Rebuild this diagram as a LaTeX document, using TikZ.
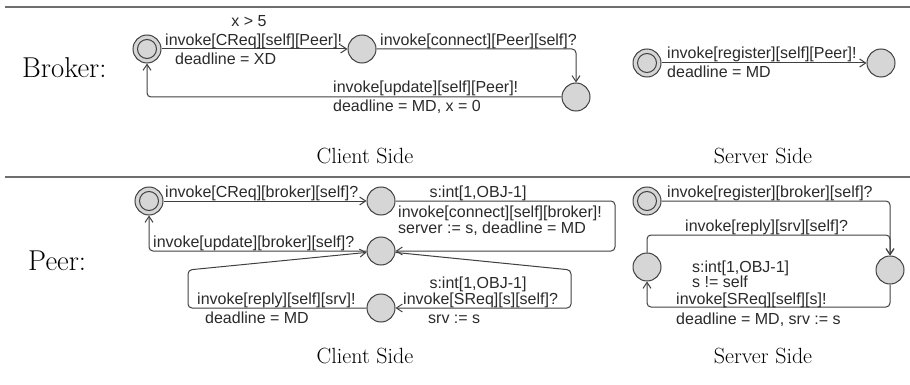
\documentclass[tikz,border=0pt]{standalone}
\usepackage{fontspec}
\newfontfamily\lblfont{Liberation Sans}
\usetikzlibrary{arrows.meta}
\definecolor{stroke}{HTML}{404040}
\definecolor{locfill}{HTML}{D6D6D6}
\definecolor{txt}{HTML}{2A2A2A}
\definecolor{rulec}{HTML}{6E6E6E}
\begin{document}
\begin{tikzpicture}[x=1pt,y=-1pt,
  loc/.style={circle, draw=stroke, fill=locfill, line width=1pt, minimum size=28pt, inner sep=0pt},
  initloc/.style={loc, path picture={\draw[stroke,line width=1pt] (path picture bounding box.center) circle (9.5pt);}},
  lbl/.style={font=\lblfont\fontsize{16}{19}\selectfont, text=txt, inner sep=0pt},
  trans/.style={draw=stroke, line width=1pt, rounded corners=4pt, -{Straight Barb[length=6pt,width=8pt]}},
  heading/.style={font=\fontsize{28.7}{32}\selectfont, inner sep=0pt},
  sidelbl/.style={font=\fontsize{22}{26}\selectfont, inner sep=0pt},
  sep/.style={draw=rulec, line width=1.5pt}
]
\useasboundingbox (0,0) rectangle (910,385);

% rules
\coordinate (r1a) at (5,7);   \coordinate (r1b) at (910,7);
\coordinate (r2a) at (5,177); \coordinate (r2b) at (910,177);
\draw[sep] (r1a) -- (r1b);
\draw[sep] (r2a) -- (r2b);

% headings
\node[heading, anchor=base west] (hb) at (22,78) {Broker:};
\node[heading, anchor=base west] (hp) at (28,270) {Peer:};
\node[sidelbl, anchor=base] (cs1) at (365,164) {Client Side};
\node[sidelbl, anchor=base] (ss1) at (763,164) {Server Side};
\node[sidelbl, anchor=base] (cs2) at (365,363) {Client Side};
\node[sidelbl, anchor=base] (ss2) at (763,363) {Server Side};

% ---------------- Broker client side
\node[initloc] (b0) at (147,49) {};
\node[loc] (b1) at (362,49) {};
\node[loc] (b2) at (576,97) {};
\draw[trans] (b0) -- (b1);
\draw[trans] (b1.east) -| (b2.north);
\draw[trans] (b2.west) -| (b0.south);
\node[lbl, anchor=base] (l1) at (249,27) {x > 5};
\node[lbl, anchor=base west] (l2) at (165,46) {invoke[CReq][self][Peer]!};
\node[lbl, anchor=base west] (l3) at (175,65) {deadline = XD};
\node[lbl, anchor=base west] (l4) at (380,46) {invoke[connect][Peer][self]?};
\node[lbl, anchor=base west] (l5) at (333,93) {invoke[update][self][Peer]!};
\node[lbl, anchor=base west] (l6) at (333,112) {deadline = MD, x = 0};

% ---------------- Broker server side
\node[initloc] (bs0) at (647,63) {};
\node[loc] (bs1) at (881,63) {};
\draw[trans] (bs0) -- (bs1);
\node[lbl, anchor=base west] (l7) at (667,59) {invoke[register][self][Peer]!};
\node[lbl, anchor=base west] (l8) at (667,78) {deadline = MD};

% ---------------- Peer client side
\node[initloc] (p0) at (149,201) {};
\node[loc] (pA) at (381,201) {};
\node[loc] (pB) at (381,251) {};
\node[loc] (pC) at (381,308) {};
\draw[trans] (p0) -- (pA);
\draw[trans] (pA.east) -- (615,201) -- (615,251) -- (pB.east);
\draw[trans] (pB.west) -| (p0.south);
\draw[trans] (pC.west) -- (188,308) -- (188,270) -- (pB);
\draw[trans] (pB) -- (571,270) -- (571,308) -- (pC.east);
\node[lbl, anchor=base west] (m1) at (165,197) {invoke[CReq][broker][self]?};
\node[lbl, anchor=base] (m2) at (478,197) {s:int[1,OBJ-1]};
\node[lbl, anchor=base west] (m3) at (398,217) {invoke[connect][self][broker]!};
\node[lbl, anchor=base west] (m4) at (398,233) {server := s, deadline = MD};
\node[lbl, anchor=base west] (m5) at (153,247) {invoke[update][broker][self]?};
\node[lbl, anchor=base] (m6) at (478,288) {s:int[1,OBJ-1]};
\node[lbl, anchor=base west] (m7) at (403,304) {invoke[SReq][s][self]?};
\node[lbl, anchor=base west] (m8) at (428,323) {srv := s};
\node[lbl, anchor=base west] (m9) at (197,304) {invoke[reply][self][srv]!};
\node[lbl, anchor=base west] (m10) at (205,323) {deadline = MD};

% ---------------- Peer server side
\node[initloc] (ps0) at (647,201) {};
\node[loc] (pD) at (647,267) {};
\node[loc] (pE) at (890,270) {};
\draw[trans] (ps0.east) -| (pE.north);
\draw[trans] (pD.north) -- (647,235) -- (890,235) -- (pE.north);
\draw[trans] (pE.south) -- (890,307) -- (647,307) -- (pD.south);
\node[lbl, anchor=base west] (n1) at (667,197) {invoke[register][broker][self]?};
\node[lbl, anchor=base west] (n2) at (685,231) {invoke[reply][srv][self]?};
\node[lbl, anchor=base west] (n3) at (692,272) {s:int[1,OBJ-1]};
\node[lbl, anchor=base west] (n4) at (692,287) {s != self};
\node[lbl, anchor=base west] (n5) at (676,304) {invoke[SReq][self][s]!};
\node[lbl, anchor=base west] (n6) at (676,324) {deadline = MD, srv := s};
\end{tikzpicture}
\end{document}
